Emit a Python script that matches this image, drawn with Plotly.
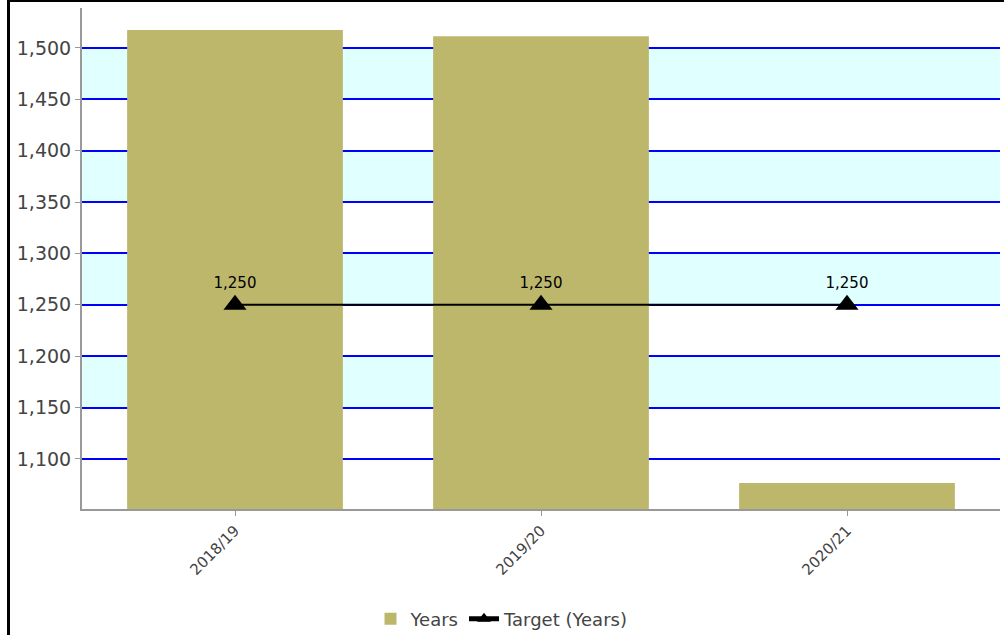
import plotly.graph_objects as go

# Data
years = ["2018/19", "2019/20", "2020/21"]
actual = [1517.5, 1511.5, 1076.5]
target = [1250, 1250, 1250]
target_labels = ["1,250", "1,250", "1,250"]

# Alternating band boundaries (light cyan stripes)
band_lows = [1150, 1250, 1350, 1450]
band_step = 50

W, H = 1004, 635
ML, MR, MT, MB = 82, 4, 8, 126
plot_w = W - ML - MR
plot_h = H - MT - MB

fig = go.Figure()

fig.add_trace(go.Bar(
    x=years, y=actual, name="Years",
    marker=dict(color="#BDB76B", line=dict(width=0)),
    width=0.705,
))

fig.add_trace(go.Scatter(
    x=years, y=target, name="Target (Years)",
    mode="lines+markers+text",
    line=dict(color="black", width=2),
    marker=dict(symbol="triangle-up", size=20, color="black"),
    text=target_labels, textposition="top center",
    textfont=dict(family="DejaVu Sans", size=15, color="black"),
    cliponaxis=False,
))

shapes = []
for lo in band_lows:
    shapes.append(dict(
        type="rect", xref="paper", yref="y", x0=0, x1=1, y0=lo, y1=lo + band_step,
        fillcolor="#E0FFFF", line=dict(width=0), layer="below",
    ))


def px_to_paper_x(px):
    return (px - ML) / plot_w


def px_to_paper_y(py):
    return (H - MB - py) / plot_h


# Frame lines on the left and top edges of the page
shapes.append(dict(
    type="line", xref="paper", yref="paper",
    x0=px_to_paper_x(8.5), x1=px_to_paper_x(8.5),
    y0=px_to_paper_y(0), y1=px_to_paper_y(H),
    line=dict(color="black", width=3), layer="above",
))
shapes.append(dict(
    type="line", xref="paper", yref="paper",
    x0=px_to_paper_x(7), x1=px_to_paper_x(W),
    y0=px_to_paper_y(1), y1=px_to_paper_y(1),
    line=dict(color="black", width=2), layer="above",
))

fig.update_layout(
    width=W, height=H,
    margin=dict(l=ML, r=MR, t=MT, b=MB, pad=0),
    paper_bgcolor="white", plot_bgcolor="white",
    font=dict(family="DejaVu Sans", color="#444444"),
    shapes=shapes,
    showlegend=True,
    legend=dict(
        orientation="h", xref="container", yref="container",
        x=0.5, xanchor="center", y=1 - 619 / H, yanchor="middle",
        font=dict(family="DejaVu Sans", size=18, color="#444444"),
        itemsizing="constant",
    ),
    bargap=0.295,
)

fig.update_yaxes(
    range=[1051.3, 1538.9],
    tickmode="linear", tick0=1100, dtick=50, tickformat=",",
    showgrid=True, gridcolor="#0000FF", gridwidth=2,
    zeroline=False,
    showline=True, linecolor="#999999", linewidth=2,
    ticks="outside", ticklen=5, tickcolor="#999999",
    tickfont=dict(family="DejaVu Sans", size=19, color="#444444"),
)

fig.update_xaxes(
    showgrid=False, zeroline=False,
    showline=True, linecolor="#999999", linewidth=2,
    ticks="outside", ticklen=5, tickcolor="#999999",
    tickangle=-45,
    tickfont=dict(family="DejaVu Sans", size=15, color="#444444"),
)

fig.write_html("out.html")
